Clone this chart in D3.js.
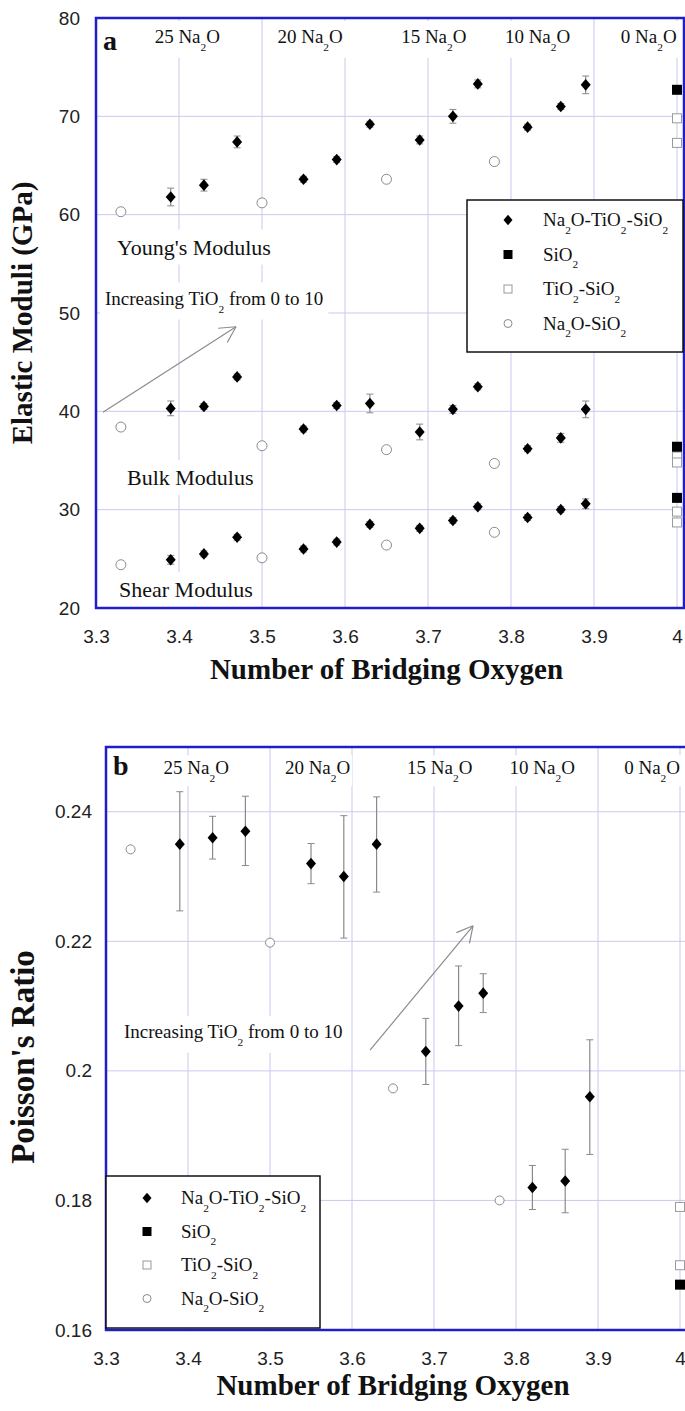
<!DOCTYPE html>
<html>
<head>
<meta charset="utf-8">
<script src="https://cdn.jsdelivr.net/npm/d3@7"></script>
<style>
  body { margin: 0; background: #fff; }
  svg text { font-family: "Liberation Serif", "Times New Roman", serif; fill: #111; }
  .tick text { font-family: "Liberation Sans", Arial, sans-serif; fill: #222; }
</style>
</head>
<body>
<svg id="chart" width="685" height="1411"></svg>
<script>
// ---- values ----
var xTickValues = [3.3, 3.4, 3.5, 3.6, 3.7, 3.8, 3.9, 4.0];
var xTickLabels = ['3.3', '3.4', '3.5', '3.6', '3.7', '3.8', '3.9', '4'];
var elasticTicks = [20, 30, 40, 50, 60, 70, 80];
var elasticTickLabels = ['20', '30', '40', '50', '60', '70', '80'];
var poissonTicks = [0.16, 0.18, 0.20, 0.22, 0.24];
var poissonTickLabels = ['0.16', '0.18', '0.2', '0.22', '0.24'];

// composition labels along the top (x in bridging-oxygen units)
var na2oContent = ['25', '20', '15', '10', '0'];
var na2oLabelX = [3.41, 3.558, 3.707, 3.832, 3.966];

// Na2O-TiO2-SiO2 glasses
var boNTS = [3.39, 3.43, 3.47, 3.55, 3.59, 3.63, 3.69, 3.73, 3.76, 3.82, 3.86, 3.89];
var youngNTS = [61.8, 63.0, 67.4, 63.6, 65.6, 69.2, 67.6, 70.0, 73.3, 68.9, 71.0, 73.2];
var youngErr = [0.9, 0.6, 0.6, 0.3, 0.3, 0.3, 0.4, 0.7, 0.4, 0.3, 0.3, 0.9];
var bulkNTS = [40.3, 40.5, 43.5, 38.2, 40.6, 40.8, 37.9, 40.2, 42.5, 36.2, 37.3, 40.2];
var bulkErr = [0.75, 0.3, 0.3, 0.3, 0.3, 0.95, 0.8, 0.4, 0.3, 0.3, 0.45, 0.85];
var shearNTS = [24.9, 25.5, 27.2, 26.0, 26.7, 28.5, 28.1, 28.9, 30.3, 29.2, 30.0, 30.6];
var shearErr = [0.45, 0.3, 0.3, 0.3, 0.3, 0.3, 0.3, 0.3, 0.3, 0.3, 0.3, 0.5];
var poissonNTS = [0.235, 0.236, 0.237, 0.232, 0.230, 0.235, 0.203, 0.210, 0.212, 0.182, 0.183, 0.196];
var poissonLo = [0.2247, 0.2327, 0.2317, 0.2289, 0.2205, 0.2276, 0.1979, 0.2039, 0.2090, 0.1786, 0.1781, 0.1871];
var poissonHi = [0.2431, 0.2393, 0.2424, 0.2351, 0.2394, 0.2423, 0.2081, 0.2162, 0.2150, 0.1854, 0.1879, 0.2048];

// Na2O-SiO2 glasses
var boNS = [3.33, 3.50, 3.65, 3.78];
var youngNS = [60.3, 61.2, 63.6, 65.4];
var bulkNS = [38.4, 36.5, 36.1, 34.7];
var shearNS = [24.4, 25.1, 26.4, 27.7];
var poissonNS = [0.2342, 0.2198, 0.1973, 0.180];

// SiO2 and TiO2-SiO2 glasses (BO = 4)
var boSilica = 4.0;
var elasticSiO2 = [72.7, 36.4, 31.2];
var elasticTiSi = [69.8, 67.3, 35.4, 34.8, 29.8, 28.7];
var poissonSiO2 = [0.167];
var poissonTiSi = [0.179, 0.170];

var legendLabels = ['Na_2O-TiO_2-SiO_2', 'SiO_2', 'TiO_2-SiO_2', 'Na_2O-SiO_2'];
var legendKinds = ['diamond', 'square', 'openSquare', 'circle'];

var svg = d3.select('#chart');
var GRID = '#c9c9f0', FRAME = '#1f1fc8', GREY = '#8a8a8a';

// text with _2 style subscripts
function richText(g, x, y, str, size, anchor, weight) {
  var t = g.append('text').attr('x', x).attr('y', y)
    .attr('text-anchor', anchor || 'start')
    .style('font-size', size + 'px')
    .style('font-weight', weight || 'normal');
  var shift = size * 0.42, down = false;
  str.split(/(_\d)/).forEach(function(p){
    if (!p) return;
    if (p[0] === '_') {
      t.append('tspan').attr('dy', shift).style('font-size', (size * 0.6) + 'px').text(p.slice(1));
      down = true;
    } else {
      t.append('tspan').attr('dy', down ? -shift : 0).text(p);
      down = false;
    }
  });
  return t;
}

function withBg(g, t, pad) {
  var b = t.node().getBBox();
  g.insert('rect', function(){ return t.node(); })
    .attr('x', b.x - pad).attr('y', b.y - pad)
    .attr('width', b.width + 2 * pad).attr('height', b.height + 2 * pad)
    .attr('fill', '#fff');
}

function mark(g, kind, cx, cy, s) {
  if (kind === 'diamond') {
    g.append('path')
      .attr('d', 'M' + cx + ',' + (cy - s * 0.58) + 'L' + (cx + s * 0.5) + ',' + cy +
                 'L' + cx + ',' + (cy + s * 0.58) + 'L' + (cx - s * 0.5) + ',' + cy + 'Z')
      .attr('fill', '#000');
  } else if (kind === 'square') {
    g.append('rect').attr('x', cx - s / 2).attr('y', cy - s / 2)
      .attr('width', s).attr('height', s).attr('fill', '#000');
  } else if (kind === 'openSquare') {
    g.append('rect').attr('x', cx - s / 2 + 0.5).attr('y', cy - s / 2 + 0.5)
      .attr('width', s - 1).attr('height', s - 1)
      .attr('fill', '#fff').attr('stroke', '#9a9a9a').attr('stroke-width', 1);
  } else {
    g.append('circle').attr('cx', cx).attr('cy', cy).attr('r', s / 2 - 0.5)
      .attr('fill', '#fff').attr('stroke', GREY).attr('stroke-width', 1);
  }
}

function errBar(g, cx, y0, y1) {
  g.append('line').attr('x1', cx).attr('x2', cx).attr('y1', y0).attr('y2', y1)
    .attr('stroke', GREY).attr('stroke-width', 1.2);
  [y0, y1].forEach(function(yy){
    g.append('line').attr('x1', cx - 3.5).attr('x2', cx + 3.5).attr('y1', yy).attr('y2', yy)
      .attr('stroke', GREY).attr('stroke-width', 1);
  });
}

function arrow(g, x0, y0, x1, y1) {
  var a = Math.atan2(y0 - y1, x0 - x1), len = 18, spread = 0.49;
  g.append('line').attr('x1', x0).attr('y1', y0).attr('x2', x1).attr('y2', y1)
    .attr('stroke', '#8c8c8c').attr('stroke-width', 1.2);
  [-spread, spread].forEach(function(d){
    g.append('line').attr('x1', x1).attr('y1', y1)
      .attr('x2', x1 + len * Math.cos(a + d)).attr('y2', y1 + len * Math.sin(a + d))
      .attr('stroke', '#8c8c8c').attr('stroke-width', 1.2);
  });
}

function drawPanel(cfg) {
  var x = d3.scaleLinear().domain([3.3, 4.0]).range(cfg.xRange);
  var y = d3.scaleLinear().domain(cfg.yDomain).range(cfg.yRange);
  var g = svg.append('g');
  var left = cfg.xRange[0], top = cfg.yRange[1], bottom = cfg.yRange[0];

  // grid
  var grid = g.append('g');
  xTickValues.slice(1).forEach(function(v){
    grid.append('line').attr('x1', x(v)).attr('x2', x(v)).attr('y1', top).attr('y2', bottom)
      .attr('stroke', GRID).attr('stroke-width', 1);
  });
  cfg.yGrid.forEach(function(v){
    grid.append('line').attr('x1', left).attr('x2', cfg.frameRight).attr('y1', y(v)).attr('y2', y(v))
      .attr('stroke', GRID).attr('stroke-width', 1);
  });

  // labels with white backing
  var lab = g.append('g');
  na2oContent.forEach(function(c, i){
    var t = richText(lab, x(na2oLabelX[i]), y(cfg.na2oY), c + ' Na_2O', 19, 'middle');
    withBg(lab, t, cfg.na2oPad);
  });
  cfg.notes.forEach(function(n){
    var t = richText(lab, x(n.x), y(n.y), n.text, n.size, 'start');
    withBg(lab, t, 5);
  });
  cfg.arrows.forEach(function(a){ arrow(lab, x(a[0]), y(a[1]), x(a[2]), y(a[3])); });

  // data
  var pts = g.append('g');
  cfg.series.forEach(function(s){
    s.values.forEach(function(v, i){
      var cx = x(s.bo[i]);
      if (s.err) errBar(pts, cx, y(v - s.err[i]), y(v + s.err[i]));
      if (s.lo) errBar(pts, cx, y(s.lo[i]), y(s.hi[i]));
    });
  });
  cfg.series.forEach(function(s){
    s.values.forEach(function(v, i){ mark(pts, s.kind, x(s.bo[i]), y(v), s.size); });
  });

  // frame
  g.append('rect').attr('x', left).attr('y', top)
    .attr('width', cfg.frameRight - left).attr('height', bottom - top)
    .attr('fill', 'none').attr('stroke', FRAME).attr('stroke-width', 2.5);

  // panel letter
  g.append('text').attr('x', x(cfg.letterX)).attr('y', y(cfg.letterY))
    .style('font-size', '28px').style('font-weight', 'bold').text(cfg.letter);

  // legend
  var L = cfg.legend;
  var lg = g.append('g');
  lg.append('rect').attr('x', L.x0).attr('y', L.y0).attr('width', L.x1 - L.x0).attr('height', L.y1 - L.y0)
    .attr('fill', '#fff').attr('stroke', '#111').attr('stroke-width', 1.5);
  legendLabels.forEach(function(lbl, i){
    var cy = L.y0 + L.first + i * L.step;
    mark(lg, legendKinds[i], L.sx, cy, legendKinds[i] === 'diamond' ? 9 : 9);
    richText(lg, L.tx, cy + 6, lbl, 19, 'start');
  });

  // axes
  var ax = d3.axisLeft(y).tickValues(cfg.yTicks).tickSize(0).tickPadding(cfg.yPad)
    .tickFormat(function(d, i){ return cfg.yTickLabels[i]; });
  var ga = g.append('g').attr('transform', 'translate(' + left + ',0)').call(ax);
  ga.select('.domain').remove();
  ga.selectAll('text').style('font-size', '19px');

  var bx = d3.axisBottom(x).tickValues(xTickValues).tickSize(0).tickPadding(21.5)
    .tickFormat(function(d, i){ return xTickLabels[i]; });
  var gb = g.append('g').attr('transform', 'translate(0,' + bottom + ')').call(bx);
  gb.select('.domain').remove();
  gb.selectAll('text').style('font-size', '19px');

  // axis titles
  g.append('text').attr('x', (left + cfg.xRange[1]) / 2).attr('y', cfg.xTitleY)
    .attr('text-anchor', 'middle').style('font-size', '29px').style('font-weight', 'bold')
    .text('Number of Bridging Oxygen');
  g.append('text')
    .attr('transform', 'translate(' + cfg.yTitleX + ',' + cfg.yTitleCy + ') rotate(-90)')
    .attr('text-anchor', 'middle').style('font-size', cfg.yTitleSize + 'px').style('font-weight', 'bold')
    .text(cfg.yTitle);
}

var silicaX3 = elasticSiO2.map(function(){ return boSilica; });
var tiSiX6 = elasticTiSi.map(function(){ return boSilica; });

drawPanel({
  xRange: [96, 677], yDomain: [20, 80], yRange: [608, 18], frameRight: 684,
  yTicks: elasticTicks, yTickLabels: elasticTickLabels, yGrid: [30, 40, 50, 60, 70], yPad: 16,
  na2oY: 77.46, na2oPad: 5,
  letter: 'a', letterX: 3.3085, letterY: 76.75,
  notes: [
    { text: "Young's Modulus", x: 3.3253, y: 55.94, size: 22 },
    { text: 'Increasing TiO_2 from 0 to 10', x: 3.3108, y: 50.86, size: 19 },
    { text: 'Bulk Modulus', x: 3.3373, y: 32.5, size: 22 },
    { text: 'Shear Modulus', x: 3.3277, y: 21.1, size: 22 }
  ],
  arrows: [[3.3084, 39.9, 3.4687, 48.6]],
  series: [
    { kind: 'circle', bo: boNS, values: youngNS, size: 11 },
    { kind: 'circle', bo: boNS, values: bulkNS, size: 11 },
    { kind: 'circle', bo: boNS, values: shearNS, size: 11 },
    { kind: 'openSquare', bo: tiSiX6, values: elasticTiSi, size: 10 },
    { kind: 'square', bo: silicaX3, values: elasticSiO2, size: 10 },
    { kind: 'diamond', bo: boNTS, values: youngNTS, err: youngErr, size: 10 },
    { kind: 'diamond', bo: boNTS, values: bulkNTS, err: bulkErr, size: 10 },
    { kind: 'diamond', bo: boNTS, values: shearNTS, err: shearErr, size: 10 }
  ],
  legend: { x0: 467, x1: 683, y0: 200, y1: 352, first: 20, step: 34.5, sx: 508, tx: 543 },
  xTitleY: 679, yTitle: 'Elastic Moduli (GPa)', yTitleX: 32, yTitleCy: 313, yTitleSize: 29
});

drawPanel({
  xRange: [106, 680], yDomain: [0.16, 0.25], yRange: [1330, 747], frameRight: 687,
  yTicks: poissonTicks, yTickLabels: poissonTickLabels, yGrid: [0.18, 0.20, 0.22, 0.24], yPad: 14,
  na2oY: 0.2458, na2oPad: 2,
  letter: 'b', letterX: 3.3085, letterY: 0.2457,
  notes: [
    { text: 'Increasing TiO_2 from 0 to 10', x: 3.322, y: 0.2051, size: 19 }
  ],
  arrows: [[3.622, 0.2032, 3.7476, 0.2224]],
  series: [
    { kind: 'circle', bo: boNS, values: poissonNS, size: 10 },
    { kind: 'openSquare', bo: poissonTiSi.map(function(){ return boSilica; }), values: poissonTiSi, size: 10 },
    { kind: 'square', bo: poissonSiO2.map(function(){ return boSilica; }), values: poissonSiO2, size: 10 },
    { kind: 'diamond', bo: boNTS, values: poissonNTS, lo: poissonLo, hi: poissonHi, size: 10 }
  ],
  legend: { x0: 106, x1: 320, y0: 1176, y1: 1328, first: 22, step: 33.5, sx: 147, tx: 181 },
  xTitleY: 1395, yTitle: "Poisson's Ratio", yTitleX: 34, yTitleCy: 1057, yTitleSize: 33
});
</script>
</body>
</html>
